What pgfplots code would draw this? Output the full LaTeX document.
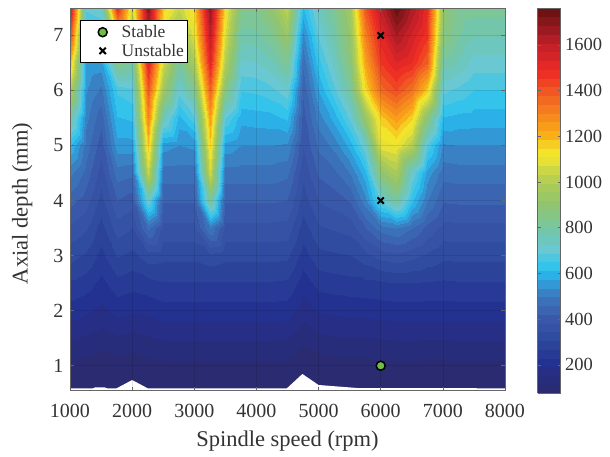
\documentclass[border=0pt]{standalone}
\usepackage{fontspec}
\setmainfont{Liberation Serif}
\usepackage{pgfplots}
\pgfplotsset{compat=1.18}
\definecolor{txt}{HTML}{333333}
\definecolor{stablegreen}{RGB}{110,190,70}
\pgfplotsset{colormap={spindle}{
rgb255(77)=(42,43,112)
rgb255(200)=(35,50,145)
rgb255(300)=(47,74,158)
rgb255(400)=(58,90,171)
rgb255(500)=(60,124,192)
rgb255(560)=(47,159,220)
rgb255(610)=(40,194,240)
rgb255(700)=(104,200,212)
rgb255(800)=(118,198,162)
rgb255(900)=(144,196,112)
rgb255(1000)=(175,204,84)
rgb255(1060)=(205,216,70)
rgb255(1110)=(240,228,45)
rgb255(1150)=(244,226,42)
rgb255(1210)=(249,176,24)
rgb255(1370)=(242,106,33)
rgb255(1500)=(238,42,36)
rgb255(1620)=(192,31,42)
rgb255(1762)=(110,18,20)
},
mylegend/.style={legend image code/.code={\path[draw=none,fill=none] (0pt,-3pt) rectangle (38pt,3pt); \draw[mark repeat=2,mark phase=2,##1] plot coordinates {(0pt,0pt)(21pt,0pt)(38pt,0pt)};}},
}
\begin{document}
\begin{tikzpicture}
\path[use as bounding box] (0,0) rectangle (610pt,456pt);
\begin{axis}[
  at={(70pt,65.5pt)}, anchor=south west,
  scale only axis, width=435pt, height=382.6pt,
  view={0}{90},
  xmin=1000, xmax=8000, ymin=0.55, ymax=7.5,
  xtick={1000,2000,...,8000}, ytick={1,2,...,7}, ztick=\empty,
  /pgf/number format/assume math mode=true,
  /pgf/number format/1000 sep={},
  tick label style={font=\fontsize{20}{22}\selectfont, text=txt},
  xticklabel style={yshift=-10pt},
  yticklabel style={xshift=-3pt},
  label style={font=\fontsize{22.5}{25}\selectfont, text=txt},
  xlabel={Spindle speed (rpm)},
  ylabel={Axial depth (mm)},
  xlabel style={at={(axis description cs:0.5,-0.132)}, anchor=center},
  ylabel style={at={(axis description cs:-0.11,0.489)}, anchor=center},
  grid=major,
  grid style={black, opacity=0.1, line width=0.5pt},
  axis on top,
  axis line style={draw=black!60, line width=0.6pt},
  tick style={draw=black!60, line width=0.5pt},
  major tick length=4pt,
  colormap name=spindle,
  point meta min=77, point meta max=1762,
  colorbar,
  colorbar style={
    at={(parent axis.north east)}, anchor=north west, xshift=24pt,
    scale only axis, width=23pt, height=385pt,
    ytick={200,400,...,1600},
    tick label style={font=\fontsize{18.5}{20}\selectfont, text=txt},
    yticklabel style={xshift=1pt},
    /pgf/number format/assume math mode=true,
    /pgf/number format/1000 sep={},
    axis line style={draw=black!60, line width=0.5pt},
    major tick length=3pt,
    samples=45,
  },
  legend style={at={(0.024,0.968)}, anchor=north west, draw=black, line width=0.5pt, fill=white,
    font=\fontsize{17.5}{20}\selectfont, text=txt, inner xsep=1pt, inner ysep=3pt, row sep=1pt},
  legend cell align=left,
]
\addplot3[contour filled={number=44}, forget plot, mesh/ordering=y varies, mesh/rows=15, mesh/cols=29] coordinates {
(1000,0.5,55)(1000,1,105)(1000,1.5,158)(1000,2,212)(1000,2.5,265)(1000,3,320)(1000,3.5,375)(1000,4,435)(1000,4.5,510)(1000,5,610)(1000,5.5,800)(1000,6,1010)(1000,6.5,1200)(1000,7,1430)(1000,7.5,1600)
(1250,0.5,53)(1250,1,100)(1250,1.5,148)(1250,2,198)(1250,2.5,250)(1250,3,300)(1250,3.5,350)(1250,4,400)(1250,4.5,445)(1250,5,480)(1250,5.5,510)(1250,6,540)(1250,6.5,570)(1250,7,620)(1250,7.5,700)
(1500,0.5,50)(1500,1,90)(1500,1.5,135)(1500,2,180)(1500,2.5,218)(1500,3,255)(1500,3.5,290)(1500,4,330)(1500,4.5,365)(1500,5,400)(1500,5.5,435)(1500,6,490)(1500,6.5,560)(1500,7,640)(1500,7.5,720)
(1750,0.5,50)(1750,1,100)(1750,1.5,150)(1750,2,205)(1750,2.5,255)(1750,3,310)(1750,3.5,365)(1750,4,420)(1750,4.5,480)(1750,5,560)(1750,5.5,610)(1750,6,660)(1750,6.5,850)(1750,7,1150)(1750,7.5,1500)
(2000,0.5,45)(2000,1,90)(2000,1.5,140)(2000,2,195)(2000,2.5,245)(2000,3,295)(2000,3.5,345)(2000,4,400)(2000,4.5,470)(2000,5,560)(2000,5.5,620)(2000,6,680)(2000,6.5,800)(2000,7,950)(2000,7.5,1060)
(2250,0.5,55)(2250,1,100)(2250,1.5,150)(2250,2,200)(2250,2.5,255)(2250,3,325)(2250,3.5,470)(2250,4,720)(2250,4.5,1040)(2250,5,1180)(2250,5.5,1300)(2250,6,1400)(2250,6.5,1530)(2250,7,1620)(2250,7.5,1700)
(2500,0.5,55)(2500,1,105)(2500,1.5,158)(2500,2,212)(2500,2.5,265)(2500,3,318)(2500,3.5,372)(2500,4,425)(2500,4.5,480)(2500,5,550)(2500,5.5,760)(2500,6,950)(2500,6.5,1060)(2500,7,1120)(2500,7.5,1170)
(2750,0.5,55)(2750,1,105)(2750,1.5,158)(2750,2,212)(2750,2.5,265)(2750,3,318)(2750,3.5,372)(2750,4,425)(2750,4.5,480)(2750,5,535)(2750,5.5,600)(2750,6,710)(2750,6.5,810)(2750,7,920)(2750,7.5,1040)
(3000,0.5,55)(3000,1,105)(3000,1.5,158)(3000,2,212)(3000,2.5,265)(3000,3,318)(3000,3.5,372)(3000,4,425)(3000,4.5,480)(3000,5,545)(3000,5.5,680)(3000,6,840)(3000,6.5,980)(3000,7,1090)(3000,7.5,1160)
(3250,0.5,55)(3250,1,105)(3250,1.5,158)(3250,2,212)(3250,2.5,265)(3250,3,330)(3250,3.5,500)(3250,4,820)(3250,4.5,1060)(3250,5,1160)(3250,5.5,1250)(3250,6,1380)(3250,6.5,1520)(3250,7,1610)(3250,7.5,1690)
(3500,0.5,55)(3500,1,105)(3500,1.5,158)(3500,2,212)(3500,2.5,265)(3500,3,318)(3500,3.5,372)(3500,4,425)(3500,4.5,480)(3500,5,560)(3500,5.5,690)(3500,6,870)(3500,6.5,1000)(3500,7,1080)(3500,7.5,1130)
(3750,0.5,55)(3750,1,105)(3750,1.5,158)(3750,2,212)(3750,2.5,265)(3750,3,318)(3750,3.5,372)(3750,4,425)(3750,4.5,480)(3750,5,535)(3750,5.5,590)(3750,6,655)(3750,6.5,720)(3750,7,785)(3750,7.5,850)
(4000,0.5,55)(4000,1,105)(4000,1.5,158)(4000,2,212)(4000,2.5,265)(4000,3,318)(4000,3.5,372)(4000,4,425)(4000,4.5,480)(4000,5,535)(4000,5.5,595)(4000,6,660)(4000,6.5,725)(4000,7,790)(4000,7.5,850)
(4250,0.5,55)(4250,1,105)(4250,1.5,158)(4250,2,212)(4250,2.5,265)(4250,3,318)(4250,3.5,372)(4250,4,425)(4250,4.5,480)(4250,5,535)(4250,5.5,600)(4250,6,680)(4250,6.5,760)(4250,7,840)(4250,7.5,910)
(4500,0.5,55)(4500,1,105)(4500,1.5,155)(4500,2,210)(4500,2.5,262)(4500,3,315)(4500,3.5,368)(4500,4,420)(4500,4.5,470)(4500,5,530)(4500,5.5,620)(4500,6,720)(4500,6.5,830)(4500,7,930)(4500,7.5,1030)
(4750,0.5,45)(4750,1,84)(4750,1.5,126)(4750,2,169)(4750,2.5,211)(4750,3,250)(4750,3.5,290)(4750,4,325)(4750,4.5,355)(4750,5,385)(4750,5.5,405)(4750,6,430)(4750,6.5,470)(4750,7,530)(4750,7.5,610)
(5000,0.5,50)(5000,1,95)(5000,1.5,145)(5000,2,195)(5000,2.5,245)(5000,3,295)(5000,3.5,340)(5000,4,385)(5000,4.5,430)(5000,5,470)(5000,5.5,520)(5000,6,580)(5000,6.5,640)(5000,7,700)(5000,7.5,750)
(5250,0.5,52)(5250,1,100)(5250,1.5,150)(5250,2,200)(5250,2.5,250)(5250,3,300)(5250,3.5,350)(5250,4,400)(5250,4.5,450)(5250,5,510)(5250,5.5,590)(5250,6,680)(5250,6.5,740)(5250,7,790)(5250,7.5,830)
(5500,0.5,52)(5500,1,100)(5500,1.5,150)(5500,2,203)(5500,2.5,255)(5500,3,305)(5500,3.5,360)(5500,4,425)(5500,4.5,500)(5500,5,590)(5500,5.5,700)(5500,6,810)(5500,6.5,880)(5500,7,920)(5500,7.5,960)
(5750,0.5,52)(5750,1,100)(5750,1.5,152)(5750,2,205)(5750,2.5,258)(5750,3,330)(5750,3.5,420)(5750,4,520)(5750,4.5,600)(5750,5,720)(5750,5.5,920)(5750,6,1140)(5750,6.5,1230)(5750,7,1310)(5750,7.5,1400)
(6000,0.5,52)(6000,1,103)(6000,1.5,155)(6000,2,208)(6000,2.5,262)(6000,3,360)(6000,3.5,480)(6000,4,700)(6000,4.5,900)(6000,5,1090)(6000,5.5,1170)(6000,6,1360)(6000,6.5,1460)(6000,7,1520)(6000,7.5,1610)
(6250,0.5,53)(6250,1,105)(6250,1.5,158)(6250,2,212)(6250,2.5,268)(6250,3,370)(6250,3.5,500)(6250,4,800)(6250,4.5,980)(6250,5,1110)(6250,5.5,1250)(6250,6,1420)(6250,6.5,1530)(6250,7,1650)(6250,7.5,1760)
(6500,0.5,53)(6500,1,105)(6500,1.5,158)(6500,2,212)(6500,2.5,268)(6500,3,355)(6500,3.5,460)(6500,4,620)(6500,4.5,720)(6500,5,1000)(6500,5.5,1160)(6500,6,1340)(6500,6.5,1490)(6500,7,1560)(6500,7.5,1640)
(6750,0.5,52)(6750,1,104)(6750,1.5,156)(6750,2,210)(6750,2.5,264)(6750,3,335)(6750,3.5,410)(6750,4,500)(6750,4.5,560)(6750,5,680)(6750,5.5,880)(6750,6,1170)(6750,6.5,1380)(6750,7,1470)(6750,7.5,1500)
(7000,0.5,52)(7000,1,104)(7000,1.5,156)(7000,2,210)(7000,2.5,262)(7000,3,315)(7000,3.5,370)(7000,4,425)(7000,4.5,475)(7000,5,530)(7000,5.5,610)(7000,6,700)(7000,6.5,790)(7000,7,880)(7000,7.5,910)
(7250,0.5,52)(7250,1,105)(7250,1.5,158)(7250,2,212)(7250,2.5,265)(7250,3,318)(7250,3.5,372)(7250,4,428)(7250,4.5,480)(7250,5,535)(7250,5.5,600)(7250,6,680)(7250,6.5,760)(7250,7,810)(7250,7.5,830)
(7500,0.5,52)(7500,1,105)(7500,1.5,158)(7500,2,212)(7500,2.5,265)(7500,3,318)(7500,3.5,372)(7500,4,428)(7500,4.5,480)(7500,5,535)(7500,5.5,595)(7500,6,650)(7500,6.5,710)(7500,7,770)(7500,7.5,820)
(7750,0.5,52)(7750,1,105)(7750,1.5,158)(7750,2,212)(7750,2.5,265)(7750,3,318)(7750,3.5,372)(7750,4,428)(7750,4.5,480)(7750,5,535)(7750,5.5,595)(7750,6,650)(7750,6.5,710)(7750,7,770)(7750,7.5,820)
(8000,0.5,52)(8000,1,105)(8000,1.5,158)(8000,2,212)(8000,2.5,265)(8000,3,318)(8000,3.5,372)(8000,4,428)(8000,4.5,480)(8000,5,535)(8000,5.5,595)(8000,6,650)(8000,6.5,710)(8000,7,770)(8000,7.5,820)
};
\addplot3[draw=none, fill=white, forget plot] coordinates {
(1000,0.55,2000)(1000,0.59,2000)(1370,0.59,2000)(1400,0.605,2000)(1560,0.605,2000)(1600,0.59,2000)(1750,0.59,2000)(2000,0.74,2000)(2250,0.59,2000)(4490,0.59,2000)(4740,0.85,2000)(5000,0.65,2000)(5630,0.595,2000)(8000,0.59,2000)(8000,0.55,2000)
} \closedcycle;
\addplot3[only marks, mylegend, mark=*, mark size=4.5pt, mark options={fill=stablegreen, draw=black, line width=1.5pt}] coordinates {(6000,1,2000)};
\addlegendentry{Stable}
\addplot3[only marks, mylegend, mark=x, mark size=4.5pt, mark options={draw=black, line width=2pt}] coordinates {(6000,4,2000)(6000,7,2000)};
\addlegendentry{Unstable}
\end{axis}
\end{tikzpicture}
\end{document}
